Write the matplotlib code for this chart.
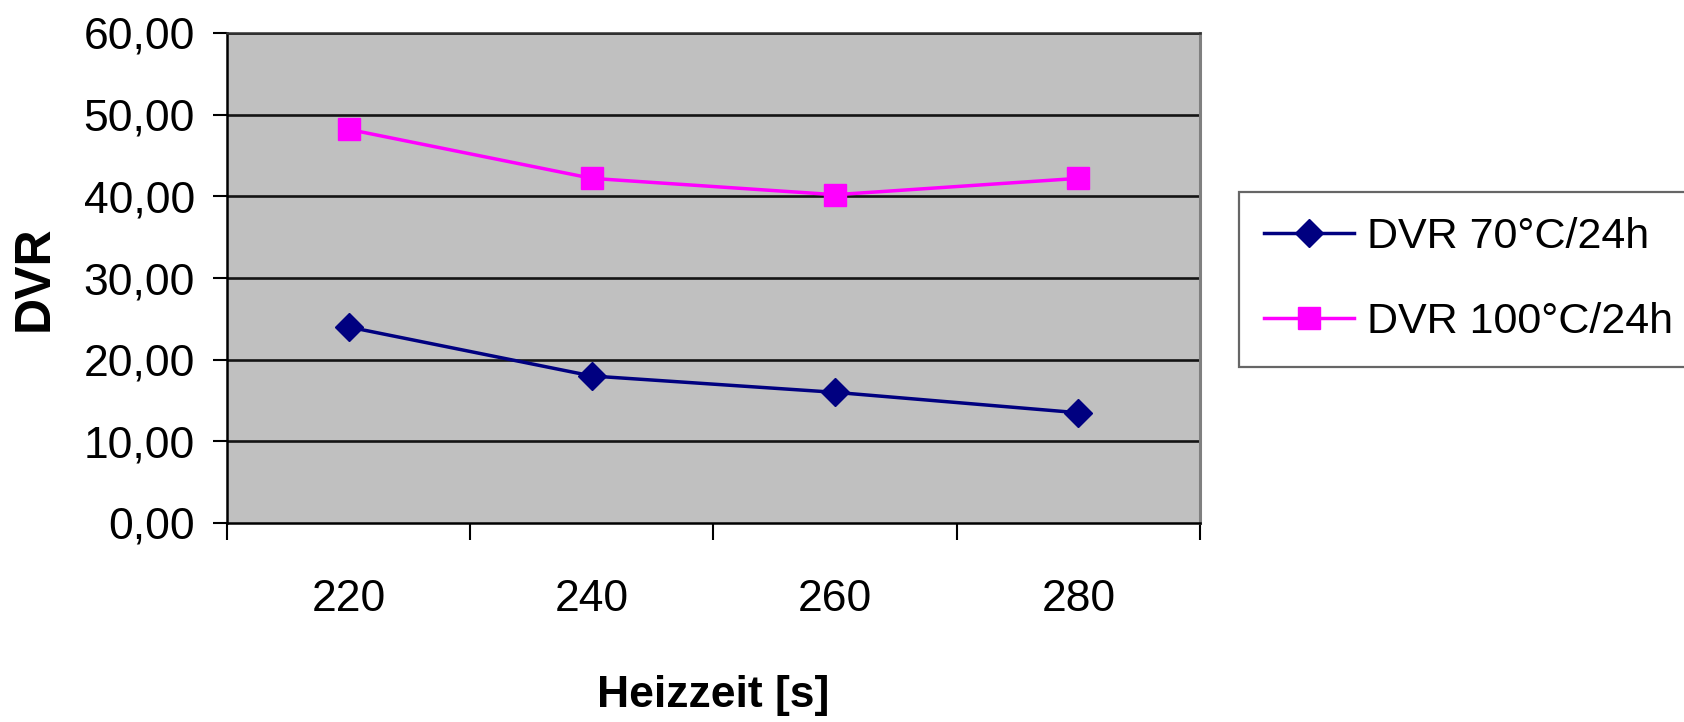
import numpy as np
import matplotlib
matplotlib.use("Agg")
import matplotlib.pyplot as plt

plt.rcParams['font.family'] = ['Liberation Sans', 'DejaVu Sans']

heizzeit = ['220', '240', '260', '280']
dvr_70 = [24.0, 18.0, 16.0, 13.5]
dvr_100 = [48.2, 42.2, 40.2, 42.2]
y_ticks = [0, 10, 20, 30, 40, 50, 60]

fig = plt.figure(figsize=(16.84, 7.22), dpi=100)
ax = fig.add_axes([227 / 1684, 1 - 523 / 722, (1200 - 227) / 1684, (523 - 33) / 722])
ax.set_facecolor('#c0c0c0')

x = np.arange(1, len(heizzeit) + 1)

# horizontal grid lines
for yv in y_ticks[1:]:
    ax.axhline(yv, color='#141414', lw=1.9, zorder=1)

ax.plot(x, dvr_70, color='#000080', lw=2.5, marker='D', ms=14,
        label='DVR 70°C/24h', zorder=3)
ax.plot(x, dvr_100, color='#ff00ff', lw=2.5, marker='s', ms=16,
        label='DVR 100°C/24h', zorder=3)

ax.set_xlim(0.5, len(heizzeit) + 0.5)
ax.set_ylim(0, 60)

# category labels centred, tick marks between categories
ax.set_xticks(x)
ax.set_xticklabels(heizzeit)
ax.set_xticks(np.arange(0.5, len(heizzeit) + 1, 1), minor=True)
ax.tick_params(axis='x', which='major', length=0, pad=40, labelsize=32)
ax.tick_params(axis='x', which='minor', length=12, width=1.5, direction='out', color='black')

ax.set_yticks(y_ticks)
ax.set_yticklabels([f'{v:.2f}'.replace('.', ',') for v in y_ticks])
ax.tick_params(axis='y', length=10, width=1.5, pad=13, labelsize=32, color='black')

for side in ['left', 'bottom']:
    ax.spines[side].set_color('black')
    ax.spines[side].set_linewidth(1.8)
ax.spines['top'].set_color('#303030')
ax.spines['top'].set_linewidth(1.8)
ax.spines['right'].set_color('#808080')
ax.spines['right'].set_linewidth(2.2)

ax.set_ylabel('DVR', fontsize=36, fontweight='bold', labelpad=19)
ax.set_xlabel('Heizzeit [s]', fontsize=32, fontweight='bold', labelpad=40)

leg = fig.legend(loc='upper left', bbox_to_anchor=(1239 / 1684, 1 - 192 / 722),
                 borderaxespad=0, fontsize=31, frameon=True, fancybox=False,
                 handlelength=2.1, handletextpad=0.3, labelspacing=1.05,
                 borderpad=0.58)
leg.get_frame().set_edgecolor('#404040')
leg.get_frame().set_linewidth(1.6)

fig.savefig('out.png', dpi=100)
